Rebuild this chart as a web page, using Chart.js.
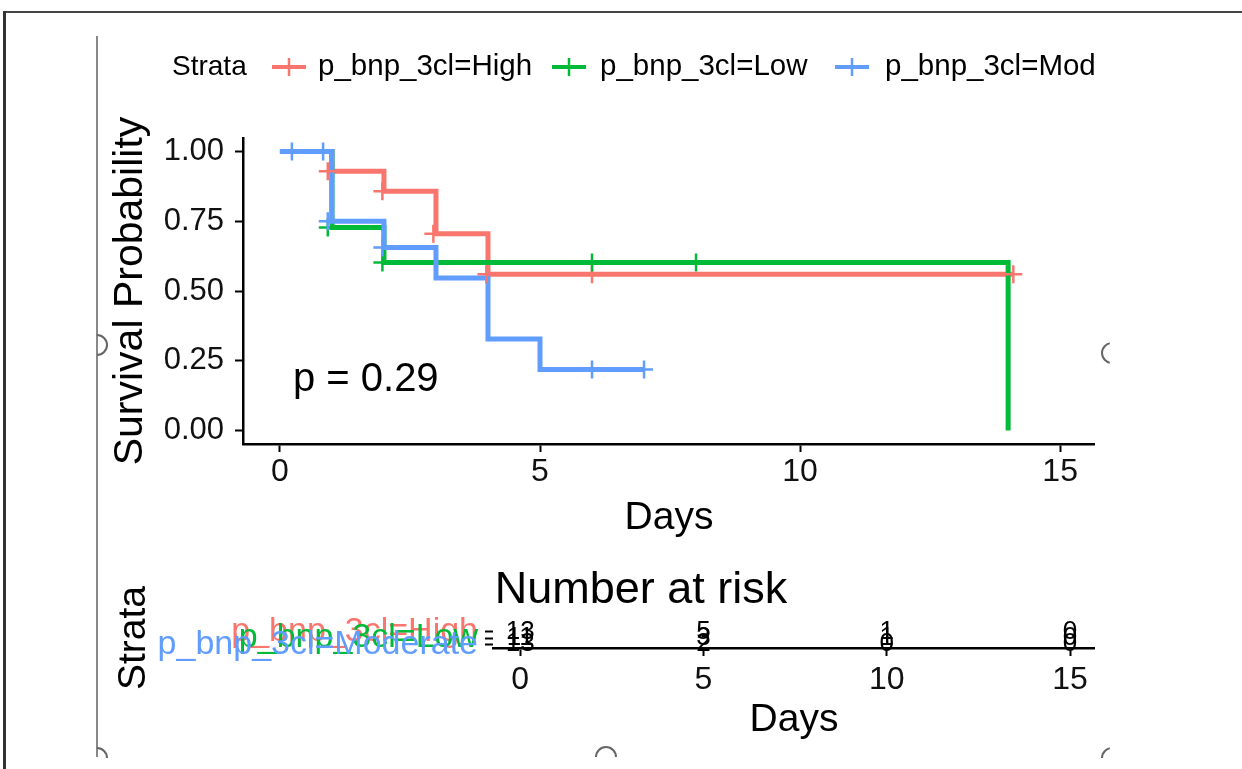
<!DOCTYPE html>
<html>
<head>
<meta charset="utf-8">
<script src="https://cdn.jsdelivr.net/npm/chart.js@4.4.1/dist/chart.umd.min.js"></script>
<style>
  html, body { margin: 0; padding: 0; background: #fff; }
  body { position: relative; width: 1242px; height: 769px; overflow: hidden; }
  #frameTop { position: absolute; left: 3px; top: 11px; width: 1239px; height: 2px; background: #444; }
  #frameLeft { position: absolute; left: 3px; top: 11px; width: 3px; height: 758px; background: #333; }
  #inner { position: absolute; left: 96px; top: 36px; width: 2px; height: 721px; background: #888; }
  .handle { position: absolute; width: 22px; height: 22px; border: 2px solid #666; border-radius: 50%; box-sizing: border-box; background: transparent; }
  #km { position: absolute; left: 100px; top: 36px; }
  #risk { position: absolute; left: 100px; top: 560px; }
</style>
</head>
<body>
<div id="frameTop"></div>
<div id="frameLeft"></div>
<div id="inner"></div>
<div class="handle" style="left:86px;top:334px;clip-path:inset(0 0 0 50%)"></div>
<div class="handle" style="left:86px;top:747px;clip-path:inset(0 0 50% 50%)"></div>
<div class="handle" style="left:595px;top:746px;clip-path:inset(0 0 50% 0)"></div>
<div class="handle" style="left:1101px;top:342px;clip-path:inset(0 60% 0 0)"></div>
<div class="handle" style="left:1101px;top:747px;clip-path:inset(0 60% 50% 0)"></div>
<canvas id="km" width="995" height="510"></canvas>
<canvas id="risk" width="995" height="209"></canvas>
<script>
// ----- data -----
const strata = ["p_bnp_3cl=High", "p_bnp_3cl=Low", "p_bnp_3cl=Moderate"];
const strataColors = ["#F8766D", "#00BA38", "#619CFF"];

// Kaplan-Meier steps (time, survival)
const highTime = [0, 1, 2, 3, 4, 14.1];
const highSurv = [1, 0.929, 0.857, 0.705, 0.56, 0.56];
const lowTime = [0, 1, 2, 14];
const lowSurv = [1, 0.727, 0.602, 0];
const modTime = [0, 1, 2, 3, 4, 5, 7];
const modSurv = [1, 0.75, 0.656, 0.547, 0.328, 0.219, 0.219];

// censor marks
const highCensorTime = [0.92, 1.97, 2.95, 3.97, 6, 14.1];
const highCensorSurv = [0.929, 0.857, 0.705, 0.56, 0.56, 0.56];
const lowCensorTime = [0.92, 1.97, 6, 8];
const lowCensorSurv = [0.727, 0.602, 0.602, 0.602];
const modCensorTime = [0.23, 0.83, 0.92, 1.97, 6, 7];
const modCensorSurv = [1, 1, 0.75, 0.656, 0.219, 0.219];

const xTicks = [0, 5, 10, 15];
const yTicks = [0, 0.25, 0.5, 0.75, 1];
const pValueText = "p = 0.29";

// number at risk table
const riskTimes = [0, 5, 10, 15];
const riskHigh = [13, 5, 1, 0];
const riskLow = [11, 3, 1, 0];
const riskModerate = [13, 2, 0, 0];

// ----- helpers -----
const FONT = '"Liberation Sans", Arial, Helvetica, sans-serif';
Chart.defaults.font.family = FONT;
Chart.defaults.color = "#000";

function pts(t, s) {
    return t.map((x, i) => ({ x: x, y: s[i] }));
}

function stepSet(label, t, s, color, order) {
    return {
        label: label, data: pts(t, s), borderColor: color, backgroundColor: color,
        borderWidth: 5, stepped: "before", pointRadius: 0, fill: false, order: order
    };
}

function censorSet(label, t, s, color, order) {
    return {
        label: label, data: pts(t, s), borderColor: color, backgroundColor: color,
        showLine: false, pointStyle: "cross", pointRadius: 9, pointBorderWidth: 2.5,
        pointHoverRadius: 9, order: order
    };
}

// legend + p-value drawn on the KM chart
const legendSymbolX = [172, 452, 735];
const legendTextX = [218, 500, 785];

const kmExtras = {
    id: "kmExtras",
    afterDraw(chart) {
        const ctx = chart.ctx;
        const xs = chart.scales.x, ys = chart.scales.y;
        ctx.save();

        ctx.font = "40px " + FONT;
        ctx.fillStyle = "#000";
        ctx.textAlign = "left";
        ctx.textBaseline = "middle";
        ctx.fillText(pValueText, xs.getPixelForValue(0.25), ys.getPixelForValue(0.18));

        // legend row
        const cy = 31;
        ctx.font = "28px " + FONT;
        ctx.fillText("Strata", 72, cy);
        ctx.font = "29.5px " + FONT;
        strata.forEach((name, i) => {
            const x = legendSymbolX[i];
            ctx.strokeStyle = strataColors[i];
            ctx.lineWidth = 4;
            ctx.beginPath();
            ctx.moveTo(x, cy); ctx.lineTo(x + 34, cy);
            ctx.stroke();
            ctx.lineWidth = 2.5;
            ctx.beginPath();
            ctx.moveTo(x + 17, cy - 9); ctx.lineTo(x + 17, cy + 9);
            ctx.stroke();
            ctx.fillStyle = "#000";
            ctx.fillText(name, legendTextX[i], cy);
        });
        ctx.restore();
    }
};

new Chart(document.getElementById("km"), {
    type: "line",
    data: {
        datasets: [
            stepSet(strata[2], modTime, modSurv, strataColors[2], 3),
            stepSet(strata[1], lowTime, lowSurv, strataColors[1], 4),
            stepSet(strata[0], highTime, highSurv, strataColors[0], 5),
            censorSet(strata[2], modCensorTime, modCensorSurv, strataColors[2], 0),
            censorSet(strata[1], lowCensorTime, lowCensorSurv, strataColors[1], 1),
            censorSet(strata[0], highCensorTime, highCensorSurv, strataColors[0], 2)
        ]
    },
    options: {
        responsive: false,
        animation: false,
        devicePixelRatio: 1,
        layout: { autoPadding: false, padding: { top: 102, right: 0, left: 0, bottom: 0 } },
        plugins: { legend: { display: false }, tooltip: { enabled: false } },
        scales: {
            x: {
                type: "linear", min: -0.71, max: 15.67,
                afterBuildTicks: s => { s.ticks = xTicks.map(v => ({ value: v })); },
                afterFit: s => { s.height = 102; },
                grid: { drawOnChartArea: false, drawTicks: true, tickLength: 8, tickWidth: 2, tickColor: "#000" },
                border: { color: "#000", width: 2.5 },
                ticks: { font: { size: 32 }, color: "#111", padding: 1, maxRotation: 0 },
                title: { display: true, text: "Days", font: { size: 39 }, color: "#000", padding: { top: 0, bottom: 4 } }
            },
            y: {
                type: "linear", min: -0.048, max: 1.048,
                afterBuildTicks: s => { s.ticks = yTicks.map(v => ({ value: v })); },
                afterFit: s => { s.width = 143; },
                grid: { drawOnChartArea: false, drawTicks: true, tickLength: 8, tickWidth: 2, tickColor: "#000" },
                border: { color: "#000", width: 2.5 },
                ticks: { font: { size: 31 }, color: "#111", padding: 11, callback: v => v.toFixed(2) },
                title: { display: true, text: "Survival Probability", font: { size: 41 }, color: "#000", padding: { top: 6, bottom: 0 } }
            }
        }
    },
    plugins: [kmExtras]
});

// ----- number at risk table -----
const riskRows = [riskHigh, riskLow, riskModerate];
const rowLevel = [3, 2, 1];

const riskExtras = {
    id: "riskExtras",
    afterDraw(chart) {
        const ctx = chart.ctx;
        const xs = chart.scales.x, ys = chart.scales.y;
        ctx.save();
        ctx.fillStyle = "#000";
        ctx.textAlign = "center";
        ctx.textBaseline = "middle";
        ctx.font = "45px " + FONT;
        ctx.fillText("Number at risk", 541, 31);
        ctx.font = "26px " + FONT;
        riskRows.forEach((row, r) => {
            row.forEach((n, i) => {
                ctx.fillText(String(n), xs.getPixelForValue(riskTimes[i]), ys.getPixelForValue(rowLevel[r]));
            });
        });
        ctx.restore();
    }
};

new Chart(document.getElementById("risk"), {
    type: "scatter",
    data: { datasets: [] },
    options: {
        responsive: false,
        animation: false,
        devicePixelRatio: 1,
        layout: { autoPadding: false, padding: { top: 68, right: 0, left: 0, bottom: 0 } },
        plugins: { legend: { display: false }, tooltip: { enabled: false } },
        scales: {
            x: {
                type: "linear", min: -0.74, max: 15.68,
                afterBuildTicks: s => { s.ticks = xTicks.map(v => ({ value: v })); },
                afterFit: s => { s.height = 121; },
                grid: { drawOnChartArea: false, drawTicks: true, tickLength: 8, tickWidth: 2, tickColor: "#000" },
                border: { color: "#000", width: 2.5 },
                ticks: { font: { size: 32 }, color: "#111", padding: 5, maxRotation: 0 },
                title: { display: true, text: "Days", font: { size: 39 }, color: "#000", padding: { top: 0, bottom: 25 } }
            },
            y: {
                type: "linear", min: 0.4, max: 3.6,
                afterBuildTicks: s => { s.ticks = rowLevel.map(v => ({ value: v })); },
                afterFit: s => { s.width = 393; },
                grid: { drawOnChartArea: false, drawTicks: true, tickLength: 8, tickWidth: 2, tickColor: "#000" },
                border: { display: false },
                ticks: {
                    autoSkip: false, font: { size: 34 }, padding: 7,
                    color: c => strataColors[rowLevel.indexOf(c.tick.value)],
                    callback: v => strata[rowLevel.indexOf(v)]
                },
                title: { display: true, text: "Strata", font: { size: 39 }, color: "#000", padding: { top: 11, bottom: 0 } }
            }
        }
    },
    plugins: [riskExtras]
});
</script>
</body>
</html>
